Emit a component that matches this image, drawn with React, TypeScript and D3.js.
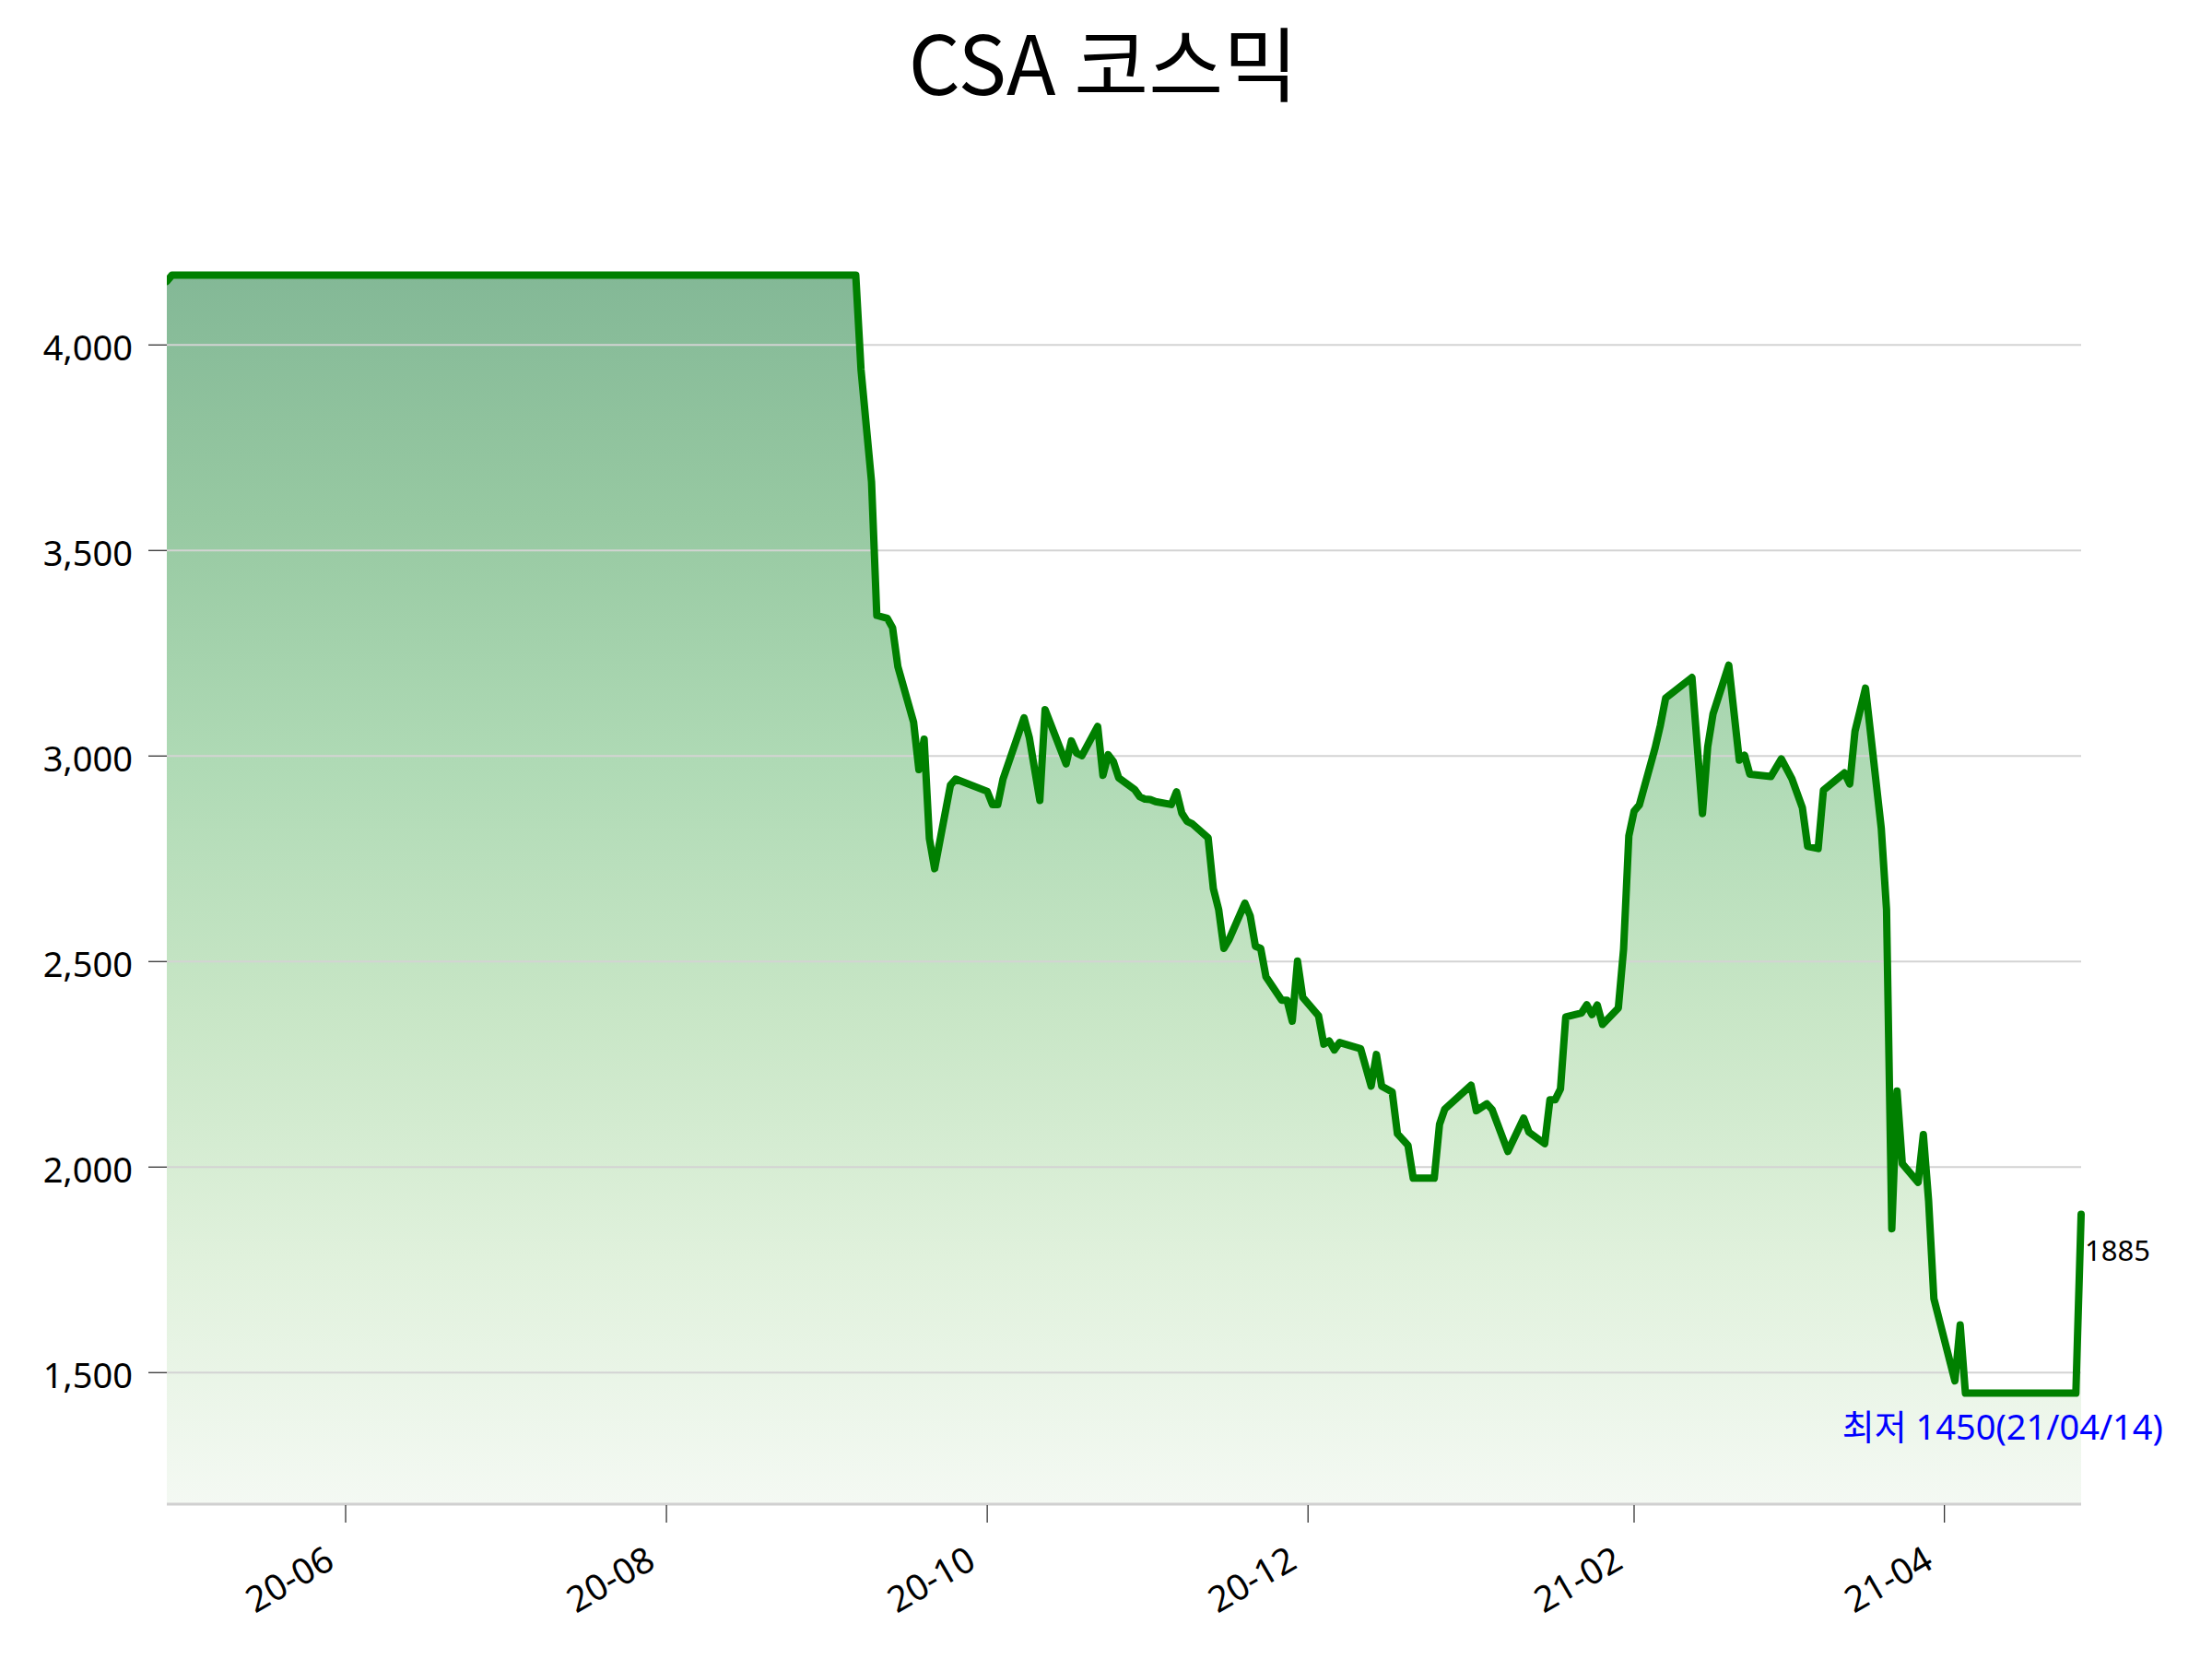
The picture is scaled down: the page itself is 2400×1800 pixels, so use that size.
import React from 'react';
import * as d3 from 'd3';

const TITLE = 'CSA 코스믹';

const dates = [
  '2020-04-28', '2020-04-29', '2020-09-06', '2020-09-07', '2020-09-09', '2020-09-10', '2020-09-12', '2020-09-13',
  '2020-09-14', '2020-09-17', '2020-09-18', '2020-09-19', '2020-09-20', '2020-09-21', '2020-09-24', '2020-09-25',
  '2020-10-01', '2020-10-02', '2020-10-03', '2020-10-04', '2020-10-08', '2020-10-09', '2020-10-11', '2020-10-12',
  '2020-10-16', '2020-10-17', '2020-10-18', '2020-10-19', '2020-10-22', '2020-10-23', '2020-10-24', '2020-10-25',
  '2020-10-26', '2020-10-29', '2020-10-30', '2020-10-31', '2020-11-01', '2020-11-02', '2020-11-05', '2020-11-06',
  '2020-11-07', '2020-11-08', '2020-11-09', '2020-11-12', '2020-11-13', '2020-11-14', '2020-11-15', '2020-11-16',
  '2020-11-19', '2020-11-20', '2020-11-21', '2020-11-22', '2020-11-23', '2020-11-26', '2020-11-27', '2020-11-28',
  '2020-11-29', '2020-11-30', '2020-12-03', '2020-12-04', '2020-12-05', '2020-12-06', '2020-12-07', '2020-12-11',
  '2020-12-13', '2020-12-14', '2020-12-15', '2020-12-17', '2020-12-18', '2020-12-20', '2020-12-21', '2020-12-25',
  '2020-12-26', '2020-12-27', '2021-01-01', '2021-01-02', '2021-01-04', '2021-01-05', '2021-01-08', '2021-01-11',
  '2021-01-12', '2021-01-15', '2021-01-16', '2021-01-17', '2021-01-18', '2021-01-19', '2021-01-22', '2021-01-23',
  '2021-01-24', '2021-01-25', '2021-01-26', '2021-01-29', '2021-01-30', '2021-01-31', '2021-02-01', '2021-02-02',
  '2021-02-05', '2021-02-06', '2021-02-07', '2021-02-12', '2021-02-14', '2021-02-15', '2021-02-16', '2021-02-19',
  '2021-02-21', '2021-02-22', '2021-02-23', '2021-02-27', '2021-03-01', '2021-03-03', '2021-03-05', '2021-03-06',
  '2021-03-08', '2021-03-09', '2021-03-13', '2021-03-14', '2021-03-15', '2021-03-17', '2021-03-20', '2021-03-21',
  '2021-03-22', '2021-03-23', '2021-03-24', '2021-03-27', '2021-03-28', '2021-03-29', '2021-03-30', '2021-04-03',
  '2021-04-04', '2021-04-05', '2021-04-14', '2021-04-26', '2021-04-27',
];

const prices = [
  4155, 4170, 4170, 3940, 3667, 3342, 3335, 3312,
  3218, 3082, 2967, 3041, 2799, 2726, 2929, 2944,
  2914, 2882, 2882, 2944, 3093, 3045, 2892, 3113,
  2981, 3037, 3007, 3001, 3072, 2953, 3003, 2986,
  2947, 2919, 2901, 2895, 2894, 2889, 2882, 2913,
  2861, 2841, 2835, 2801, 2677, 2627, 2532, 2554,
  2642, 2611, 2537, 2532, 2463, 2406, 2406, 2355,
  2501, 2413, 2368, 2299, 2307, 2285, 2303, 2288,
  2197, 2274, 2197, 2183, 2081, 2053, 1973, 1973,
  2104, 2141, 2199, 2137, 2154, 2140, 2038, 2119,
  2085, 2057, 2164, 2164, 2190, 2365, 2375, 2395,
  2371, 2394, 2347, 2387, 2530, 2806, 2866, 2881,
  3020, 3075, 3141, 3191, 2860, 3023, 3102, 3221,
  2990, 3002, 2956, 2950, 2993, 2945, 2874, 2780,
  2775, 2917, 2959, 2932, 3060, 3165, 2824, 2626,
  1850, 2185, 2008, 1963, 2079, 1918, 1680, 1480,
  1616, 1450, 1450, 1450, 1885,
];

const yTicks = [1500, 2000, 2500, 3000, 3500, 4000];
const xTicks = ['2020-06-01', '2020-08-01', '2020-10-01', '2020-12-01', '2021-02-01', '2021-04-01'];
const yDomain = [1180, 4180];

const LAST_LABEL = '1885';
const MIN_LABEL = '최저 1450(21/04/14)';
const MIN_DATE = '2021-04-14';
const MIN_VALUE = 1450;

const FONT = "'Noto Sans', 'Noto Sans CJK KR', sans-serif";

export default function App() {
  const parse = d3.timeParse('%Y-%m-%d');
  const data = dates.map((d, i) => ({ date: parse(d) as Date, v: prices[i] }));

  const left = 181, right = 2258, top = 294, bottom = 1632;

  const x = d3.scaleTime()
    .domain(d3.extent(data, (d) => d.date) as [Date, Date])
    .range([left, right]);
  const y = d3.scaleLinear().domain(yDomain).range([bottom, top]);

  const line = d3.line<{ date: Date; v: number }>()
    .x((d) => x(d.date))
    .y((d) => y(d.v));
  const area = d3.area<{ date: Date; v: number }>()
    .x((d) => x(d.date))
    .y0(bottom)
    .y1((d) => y(d.v));

  const fmt = d3.format(',');
  const xFmt = d3.timeFormat('%y-%m');
  const last = data[data.length - 1];

  return (
    <svg
      width={2400}
      height={1800}
      style={{ position: 'absolute', left: 0, top: 0, background: '#fff' }}
      fontFamily={FONT}
    >
      <defs>
        <linearGradient id="fillGrad" gradientUnits="userSpaceOnUse" x1={0} y1={top} x2={0} y2={bottom}>
          <stop offset="0%" stopColor="#83b896" />
          <stop offset="20%" stopColor="#97c9a2" />
          <stop offset="40%" stopColor="#afdab5" />
          <stop offset="60%" stopColor="#c8e6c6" />
          <stop offset="80%" stopColor="#e0f1dc" />
          <stop offset="100%" stopColor="#f4f9f3" />
        </linearGradient>
        <clipPath id="plotClip">
          <rect x={left} y={0} width={right - left + 10} height={bottom} />
        </clipPath>
      </defs>

      <text x={1197} y={103} textAnchor="middle" fontSize={88} fill="#000" fontFamily="'Noto Sans CJK KR', 'Noto Sans', sans-serif">
        {TITLE}
      </text>

      <path d={area(data) || ''} fill="url(#fillGrad)" />

      {yTicks.map((t) => (
        <g key={t}>
          <line x1={left} x2={right} y1={y(t)} y2={y(t)} stroke="#d3d3d3" strokeWidth={2} />
          <line x1={left - 20} x2={left} y1={y(t)} y2={y(t)} stroke="#333" strokeWidth={1.3} />
          <text x={144} y={y(t) + 17} textAnchor="end" fontSize={38} fill="#000">
            {fmt(t)}
          </text>
        </g>
      ))}

      <line x1={left} x2={right} y1={bottom} y2={bottom} stroke="#d0d0d0" strokeWidth={3} />

      {xTicks.map((t) => {
        const xx = x(parse(t) as Date);
        return (
          <g key={t}>
            <line x1={xx} x2={xx} y1={bottom + 1} y2={bottom + 20} stroke="#333" strokeWidth={1.3} />
            <text
              x={xx - 10}
              y={bottom + 68}
              textAnchor="end"
              fontSize={39}
              fill="#000"
              transform={`rotate(-30, ${xx - 10}, ${bottom + 68})`}
            >
              {xFmt(parse(t) as Date)}
            </text>
          </g>
        );
      })}

      <g clipPath="url(#plotClip)">
        <path
          d={line(data) || ''}
          fill="none"
          stroke="#008000"
          strokeWidth={8}
          strokeLinejoin="round"
          strokeLinecap="round"
        />
      </g>

      <text x={x(last.date) + 4} y={y(last.v) + 50} fontSize={31} fill="#000">
        {LAST_LABEL}
      </text>
      <text
        x={x(parse(MIN_DATE) as Date) - 11}
        y={y(MIN_VALUE) + 50}
        textAnchor="middle"
        fontSize={38}
        fill="#0000ff"
      >
        {MIN_LABEL}
      </text>
    </svg>
  );
}
